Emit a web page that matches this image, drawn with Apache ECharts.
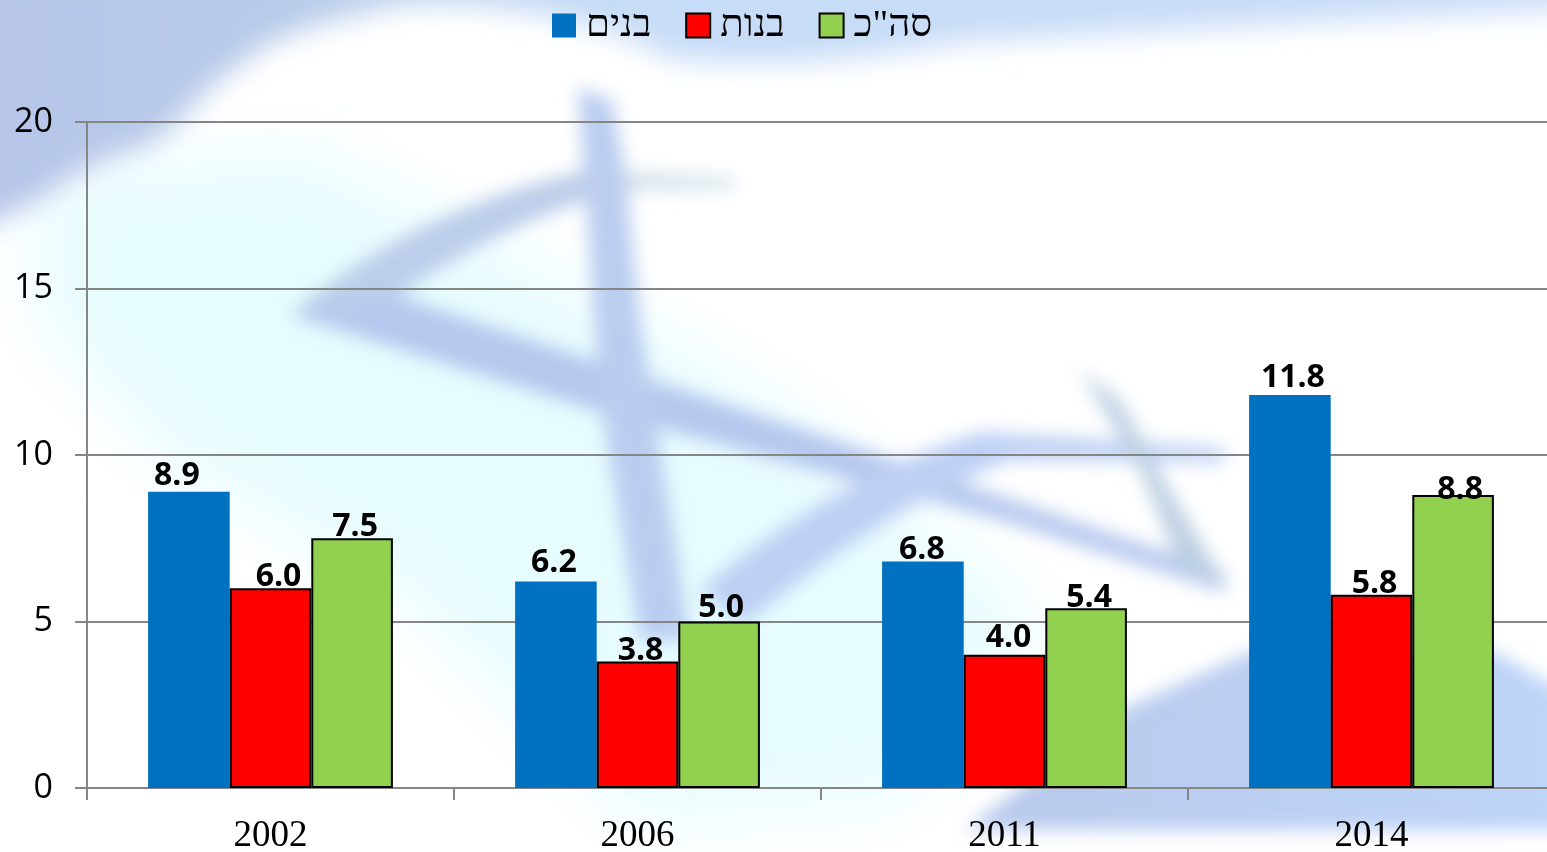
<!DOCTYPE html>
<html>
<head>
<meta charset="utf-8">
<style>
html, body { margin: 0; padding: 0; width: 100%; height: 100%; overflow: hidden; background: #fff; }
#bg { position: absolute; left: 0; top: 0; }
#container { position: absolute; left: 0; top: 0; width: 1547px; height: 852px; }
</style>
<script src="https://cdn.jsdelivr.net/npm/echarts@6/dist/echarts.min.js"></script>
</head>
<body>
<!-- blurred flag picture behind the chart -->
<svg id="bg" width="1547" height="852" viewBox="0 0 1547 852">
  <defs>
    <filter id="b1" x="-20%" y="-20%" width="140%" height="140%"><feGaussianBlur stdDeviation="9"/></filter>
    <filter id="b3" x="-20%" y="-20%" width="140%" height="140%"><feGaussianBlur stdDeviation="14"/></filter>
    <filter id="b2" x="-20%" y="-20%" width="140%" height="140%"><feGaussianBlur stdDeviation="35"/></filter>
    <linearGradient id="topband" x1="0" x2="1" y1="0" y2="0">
      <stop offset="0%" stop-color="#b6c5e8"/>
      <stop offset="20%" stop-color="#b8cbe9"/>
      <stop offset="40%" stop-color="#c6dcf7"/>
      <stop offset="100%" stop-color="#c9dcf8"/>
    </linearGradient>
    <linearGradient id="bottomband" x1="0" x2="1" y1="0" y2="0">
      <stop offset="0%" stop-color="#b9c9ec"/>
      <stop offset="100%" stop-color="#bdd5f8"/>
    </linearGradient>
  </defs>
  <rect width="1547" height="852" fill="#ffffff"/>
  <g filter="url(#b2)">
    <path d="M40 180 L300 150 L560 280 L800 420 L1040 620 L900 800 L640 820 L400 590 L180 470 L40 320 Z" fill="#e6fcfe"/>
  </g>
  <g filter="url(#b3)">
    <path d="M-30 -30 L1577 -30 L1577 8 Q1200 28 960 42 Q800 72 670 58 Q560 0 408 4 Q320 20 270 43 Q230 70 204 93 Q170 135 143 147 Q100 160 66 180 Q30 210 -30 230 Z" fill="url(#topband)"/>
  </g>
  <g filter="url(#b1)">
    <path d="M290 315 L385 292 L850 445 L1225 572 L1225 592 L1000 520 L600 412 Z" fill="#b5c8ee"/>
    <path d="M578 88 L612 100 L625 170 L640 320 L690 640 L640 640 L600 400 Z" fill="#bacdf0"/>
    <path d="M290 315 Q420 205 590 170 L640 190 L600 195 Q480 235 385 305 Z" fill="#bccdea"/>
    <path d="M625 172 L735 178 L735 188 L625 190 Z" fill="#d2e0ea"/>
    <path d="M700 590 Q830 480 980 432 L1225 448 L1225 462 L1010 460 Q880 510 745 625 Z" fill="#bdd0f4"/>
    <path d="M1080 370 L1120 400 L1170 490 L1228 588 L1180 565 L1140 470 Z" fill="#bccfe2"/>
    <path d="M965 830 L1127 707 L1251 652 L1495 652 L1577 700 L1577 830 Z" fill="url(#bottomband)"/>
  </g>
</svg>
<div id="container"></div>
<script>
var categories = ['2002', '2006', '2011', '2014'];
var boys = [8.9, 6.2, 6.8, 11.8];
var girls = [6.0, 3.8, 4.0, 5.8];
var total = [7.5, 5.0, 5.4, 8.8];

// hand placed label nudges, the original labels sit a little off the bar centres
var boysNudge = [[-12, 0], [-2, -3], [-1, 4], [3, -1]];
var girlsNudge = [[8, 5], [3, 5], [4, -1], [3, 5]];
var totalNudge = [[3, 5], [2, 2], [3, 6], [7, 11]];

function withLabels(values, nudges) {
    return values.map(function (v, i) {
        return { value: v, label: { offset: nudges[i] } };
    });
}

function barSeries(name, values, nudges, color, outline) {
    return {
        name: name,
        type: 'bar',
        barWidth: 81.6,
        barGap: 0,
        data: withLabels(values, nudges),
        itemStyle: { color: color, borderColor: outline, borderWidth: outline === 'none' ? 0 : 2 },
        label: {
            show: true,
            position: 'top',
            distance: 0,
            formatter: function (p) { return p.value.toFixed(1); },
            color: '#000',
            fontFamily: 'Open Sans',
            fontWeight: 'bold',
            fontSize: 32
        }
    };
}

var myChart = echarts.init(document.getElementById('container'));
var option = {
    backgroundColor: 'transparent',
    animation: false,
    legend: {
        top: 1,
        left: 547,
        icon: 'rect',
        itemWidth: 24,
        itemHeight: 24,
        itemGap: 34,
        textStyle: { fontFamily: 'Liberation Serif', fontSize: 38.5, color: '#000', padding: [0, 0, 0, 5] },
        data: ['בנים', 'בנות', 'סה"כ']
    },
    grid: { left: 87, top: 122, width: 1468, height: 666, outerBoundsMode: 'none' },
    xAxis: {
        type: 'category',
        data: categories,
        axisLine: { lineStyle: { color: '#868686', width: 2 } },
        axisTick: { show: true, length: 12, lineStyle: { color: '#868686', width: 2 } },
        axisLabel: { fontFamily: 'Liberation Serif', fontSize: 37, color: '#000', margin: 30 }
    },
    yAxis: {
        type: 'value',
        min: 0,
        max: 20,
        interval: 5,
        axisLine: { show: true, lineStyle: { color: '#868686', width: 2 } },
        axisTick: { show: true, length: 12, lineStyle: { color: '#868686', width: 2 } },
        splitLine: { lineStyle: { color: '#868686', width: 2 } },
        axisLabel: { fontFamily: 'Open Sans', fontSize: 34, color: '#000', margin: 34, padding: [10, 0, 0, 0] }
    },
    series: [
        barSeries('בנים', boys, boysNudge, '#0070c0', 'none'),
        barSeries('בנות', girls, girlsNudge, '#ff0000', '#000'),
        barSeries('סה"כ', total, totalNudge, '#92d050', '#000')
    ]
};
myChart.setOption(option);
</script>
</body>
</html>
